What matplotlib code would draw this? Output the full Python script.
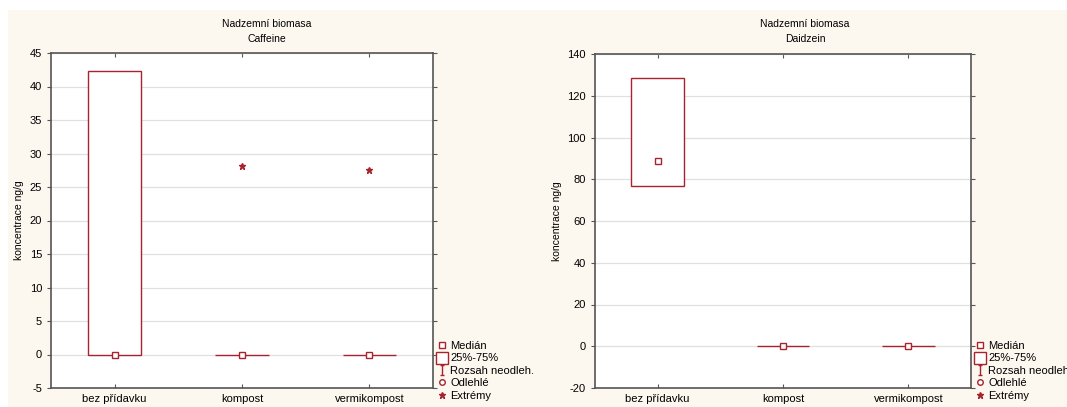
import matplotlib.pyplot as plt
from matplotlib.path import Path
from matplotlib.lines import Line2D
from matplotlib.patches import Rectangle

plt.rcParams['font.family'] = ['Liberation Sans', 'DejaVu Sans']
plt.rcParams['axes.unicode_minus'] = False

categories = ['bez přídavku', 'kompost', 'vermikompost']

# Caffeine (ng/g)
caf_median = [0.0, 0.0, 0.0]
caf_q1 = [0.0, 0.0, 0.0]
caf_q3 = [42.3, 0.0, 0.0]
caf_extreme = [None, 28.1, 27.6]

# Daidzein (ng/g)
dai_median = [88.7, 0.0, 0.0]
dai_q1 = [76.8, 0.0, 0.0]
dai_q3 = [128.5, 0.0, 0.0]
dai_extreme = [None, None, None]

legend_labels = ['Medián', '25%-75%', 'Rozsah neodleh.', 'Odlehlé', 'Extrémy']

RED = '#a8232e'
CREAM = '#fdf8ef'
W, H = 1067, 407

fig = plt.figure(figsize=(W / 100, H / 100), dpi=100)
fig.patch.set_facecolor('white')
fig.add_artist(Rectangle((8 / W, 0), 1, 1 - 10 / H, transform=fig.transFigure,
                         facecolor=CREAM, edgecolor='none', zorder=-10))

# I-shaped marker for the non-outlier range
range_marker = Path([(-0.5, 1), (0.5, 1), (0, 1), (0, -1), (-0.5, -1), (0.5, -1)],
                    [Path.MOVETO, Path.LINETO, Path.MOVETO, Path.LINETO, Path.MOVETO, Path.LINETO])


def panel(rect, name, med, q1, q3, extreme, ylim, yticks, panel_x, legend_x):
    ax = fig.add_axes(rect)
    pos = [1, 2, 3]
    stats = []
    for m, a, b in zip(med, q1, q3):
        stats.append(dict(med=m, q1=a, q3=b, whislo=a, whishi=b, fliers=[]))
    ax.bxp(stats, positions=pos, widths=0.42, showcaps=False, patch_artist=True,
           boxprops=dict(facecolor='white', edgecolor=RED, linewidth=1.0),
           whiskerprops=dict(color=RED, linewidth=1.0),
           medianprops=dict(linewidth=0), zorder=3)
    ax.plot(pos, med, 's', ms=4, mfc='white', mec=RED, mew=1.0, zorder=4)
    for p, e in zip(pos, extreme):
        if e is not None:
            ax.plot(p, e, '*', ms=5, color=RED, zorder=4)

    ax.set_xlim(0.5, 3.5)
    ax.set_ylim(*ylim)
    ax.set_yticks(yticks)
    ax.set_xticks(pos)
    ax.set_xticklabels(categories, fontsize=8)
    ax.tick_params(axis='y', labelsize=8, direction='out', length=3, color='#555555',
                   right=True)
    ax.tick_params(axis='x', direction='in', length=3, color='#555555', top=True, pad=4)
    ax.yaxis.grid(True, color='#e0e0e0', linewidth=0.9, zorder=0)
    ax.set_axisbelow(True)
    for s in ax.spines.values():
        s.set_color('#555555')
        s.set_linewidth(1.2)
    ax.set_ylabel('koncentrace ng/g', fontsize=7.5, labelpad=4)

    fig.text(panel_x / W, 1 - 24 / H, 'Nadzemní biomasa', ha='center', va='center', fontsize=7.5)
    fig.text(panel_x / W, 1 - 39 / H, name, ha='center', va='center', fontsize=7.5)

    handles = [
        Line2D([], [], ls='none', marker='s', ms=4, mfc='white', mec=RED, mew=1.0),
        Line2D([], [], ls='none', marker='s', ms=9, mfc='white', mec=RED, mew=1.0),
        Line2D([], [], ls='none', marker=range_marker, ms=7, color=RED, mew=1.0),
        Line2D([], [], ls='none', marker='o', ms=4, mfc='white', mec=RED, mew=1.0),
        Line2D([], [], ls='none', marker='*', ms=5, color=RED),
    ]
    fig.legend(handles, legend_labels, loc='upper left',
               bbox_to_anchor=(legend_x / W, 1 - 341 / H), frameon=False,
               fontsize=8, handlelength=0.8, handletextpad=0.3, labelspacing=0.22,
               borderpad=0, borderaxespad=0)
    return ax


panel([51 / W, 19 / H, 382 / W, 335 / H], 'Caffeine',
      caf_median, caf_q1, caf_q3, caf_extreme,
      (-5, 45), list(range(-5, 46, 5)), 267, 438)
panel([595 / W, 19 / H, 376 / W, 334 / H], 'Daidzein',
      dai_median, dai_q1, dai_q3, dai_extreme,
      (-20, 140), list(range(-20, 141, 20)), 805, 976)

fig.savefig('out.png', dpi=100, facecolor=fig.get_facecolor())
